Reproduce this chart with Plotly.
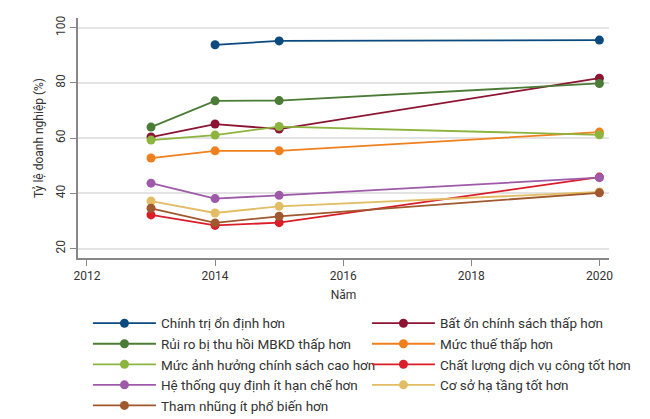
import plotly.graph_objects as go

years_a = [2013, 2014, 2015, 2020]
years_b = [2014, 2015, 2020]

names = [
    "Chính trị ổn định hơn",
    "Bất ổn chính sách thấp hơn",
    "Rủi ro bị thu hồi MBKD thấp hơn",
    "Mức thuế thấp hơn",
    "Mức ảnh hưởng chính sách cao hơn",
    "Chất lượng dịch vụ công tốt hơn",
    "Hệ thống quy định ít hạn chế hơn",
    "Cơ sở hạ tầng tốt hơn",
    "Tham nhũng ít phổ biến hơn",
]

chinh_tri = [93.8, 95.2, 95.5]
bat_on = [60.4, 65.1, 63.3, 81.7]
rui_ro = [64.0, 73.5, 73.6, 79.8]
muc_thue = [52.8, 55.4, 55.4, 62.2]
muc_anh_huong = [59.3, 61.1, 64.2, 61.2]
chat_luong = [32.2, 28.4, 29.4, 45.9]
he_thong = [43.7, 38.1, 39.3, 45.7]
co_so = [37.2, 32.9, 35.3, 40.5]
tham_nhung = [34.6, 29.3, 31.7, 40.2]

series = [chinh_tri, bat_on, rui_ro, muc_thue, muc_anh_huong,
          chat_luong, he_thong, co_so, tham_nhung]
colors = ["#0a4a7f", "#8c1432", "#4a7c36", "#f07f1e", "#8db43f",
          "#d91e2a", "#9e5aa8", "#e3bd63", "#a0582e"]

fig = go.Figure()
for i in range(len(names)):
    ys = series[i]
    xs = years_b if len(ys) == 3 else years_a
    fig.add_trace(go.Scatter(
        x=xs, y=ys, name=names[i], mode="lines+markers",
        line=dict(color=colors[i], width=1.8),
        marker=dict(color=colors[i], size=9),
    ))

# page body adds an 8px margin, so the figure is 8px smaller than the window
fig.update_layout(
    width=642, height=411,
    margin=dict(l=70, r=41, t=10, b=161, autoexpand=False),
    paper_bgcolor="white", plot_bgcolor="white",
    font=dict(family="Roboto, Arial, sans-serif", size=12, color="#333333"),
    showlegend=True,
    legend=dict(
        orientation="h", x=-0.002, xanchor="left",
        y=-0.208, yanchor="top", indentation=11,
        entrywidth=190, entrywidthmode="pixels",
        font=dict(size=13.5, color="#333333"), itemwidth=63,
        traceorder="normal", bgcolor="rgba(0,0,0,0)",
    ),
    xaxis=dict(
        range=[2011.86, 2020.15], tickvals=[2012, 2014, 2016, 2018, 2020],
        showgrid=False, showline=True, linecolor="#888888", linewidth=2,
        ticks="outside", tickcolor="#888888", ticklen=6,
        title=dict(text="Năm", standoff=8, font=dict(size=12)),
        zeroline=False,
    ),
    yaxis=dict(
        range=[16.6, 103.5], tickvals=[20, 40, 60, 80, 100],
        showgrid=True, gridcolor="#e3e3e3", gridwidth=1.5,
        showline=True, linecolor="#888888", linewidth=2,
        ticks="outside", tickcolor="#888888", ticklen=6, tickangle=-90,
        title=dict(text="Tỷ lệ doanh nghiệp (%)", standoff=8, font=dict(size=12)),
        zeroline=False,
    ),
)

fig.write_html("out.html")
